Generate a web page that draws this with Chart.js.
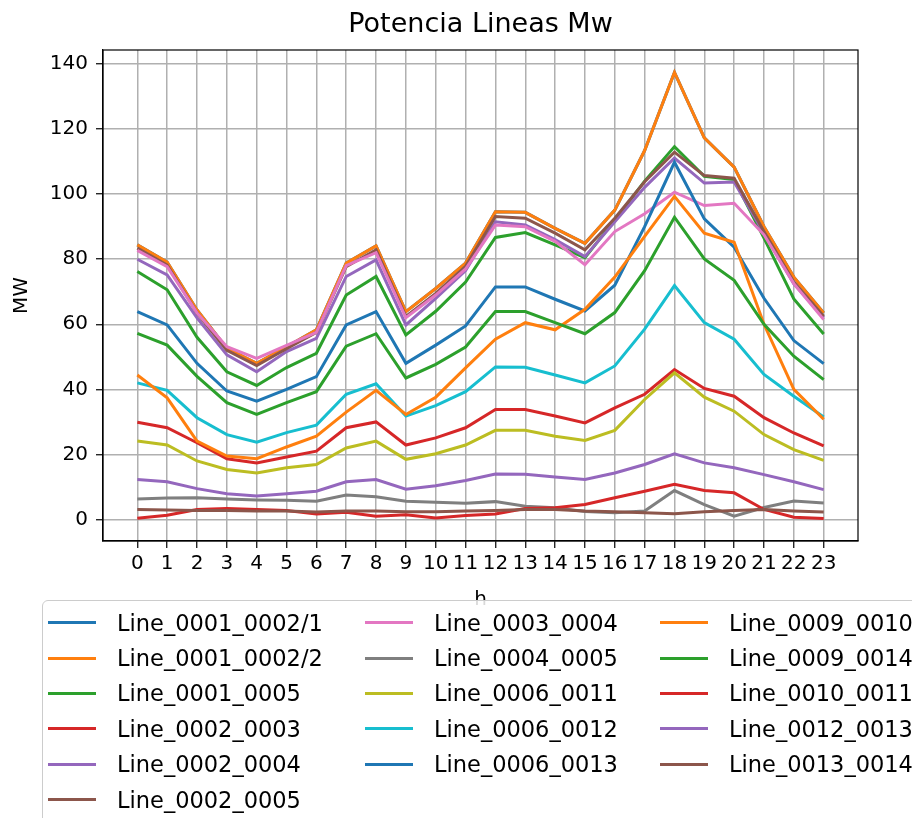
<!DOCTYPE html>
<html>
<head>
<meta charset="utf-8">
<script src="https://cdn.jsdelivr.net/npm/chart.js@4.4.0/dist/chart.umd.min.js"></script>
<style>
html,body{margin:0;padding:0;background:#fff;}
#wrap{position:relative;width:912px;height:818px;overflow:hidden;}
#c{position:absolute;left:0;top:0;}
#legend{position:absolute;left:42px;top:600px;width:900px;height:240px;border:1px solid #cccccc;border-radius:6px;background:rgba(255,255,255,0.85);box-sizing:border-box;font-family:"DejaVu Sans";font-size:22.5px;color:#000;display:grid;grid-template-rows:repeat(6,35.4px);grid-template-columns:317px 295px auto;padding-top:4px;padding-left:5px;}
.item{display:flex;align-items:center;white-space:nowrap;}
.sw{width:48px;height:3px;margin-right:21px;flex:none;}
</style>
</head>
<body>
<div id="wrap">
<canvas id="c" width="912" height="818"></canvas>
<div id="legend"></div>
</div>
<script>
const hours = [0,1,2,3,4,5,6,7,8,9,10,11,12,13,14,15,16,17,18,19,20,21,22,23];
const yTicks = [0,20,40,60,80,100,120,140];

const l0001_0002_1 = [84.4,79.1,64.4,52.6,48.0,53.1,58.3,78.8,84.1,63.9,71.0,78.8,94.6,94.4,89.5,84.9,95.1,113.4,137.4,117.3,108.3,90.0,74.5,63.5];
const l0001_0002_2 = [84.4,79.1,64.4,52.6,48.0,53.1,58.3,78.8,84.1,63.9,71.0,78.8,94.6,94.4,89.5,84.9,95.1,113.4,137.4,117.3,108.3,90.0,74.5,63.5];
const l0001_0005 = [76.2,70.6,56.0,45.4,41.2,46.7,51.1,69.0,74.7,56.7,64.0,73.0,86.7,88.2,84.4,80.5,92.0,104.0,114.6,105.5,104.5,86.5,67.8,57.0];
const l0002_0003 = [29.9,28.2,23.6,18.7,17.4,19.2,21.0,28.2,30.0,22.9,25.1,28.2,33.8,33.8,31.8,29.7,34.3,38.5,46.1,40.3,37.9,31.3,26.6,22.6];
const l0002_0004 = [80.0,75.2,62.0,50.6,45.4,51.6,55.7,74.7,79.8,59.8,68.0,76.5,91.5,90.5,86.0,80.8,91.5,102.1,111.1,103.4,103.7,88.0,72.4,62.0];
const l0002_0005 = [83.4,78.2,63.5,52.0,47.3,52.5,57.5,77.7,82.9,62.4,69.5,77.8,93.1,92.6,88.0,82.9,92.6,103.8,112.9,105.7,104.9,88.5,73.0,62.5];
const l0003_0004 = [82.7,77.7,63.5,53.1,49.5,53.5,57.5,78.0,82.0,62.0,69.0,77.0,90.5,90.0,85.5,78.3,88.5,94.0,100.6,96.5,97.2,87.5,72.5,61.5];
const l0004_0005 = [6.3,6.6,6.7,6.3,6.0,5.9,5.6,7.5,7.0,5.6,5.3,5.0,5.5,4.1,3.6,2.5,2.1,2.6,8.9,4.6,1.0,3.7,5.7,5.1];
const l0006_0011 = [24.1,22.9,18.0,15.4,14.3,15.9,16.9,22.0,24.1,18.5,20.2,22.9,27.4,27.4,25.6,24.3,27.4,36.9,45.1,37.6,33.3,26.1,21.5,18.2];
const l0006_0012 = [42.0,39.7,31.3,26.1,23.8,26.7,29.0,38.5,41.7,31.8,35.0,39.3,46.9,46.8,44.4,42.0,47.2,58.5,71.9,60.5,55.4,44.6,37.9,31.5];
const l0006_0013 = [63.9,59.8,48.0,39.5,36.4,40.0,43.9,59.8,63.9,48.0,53.6,59.5,71.5,71.5,67.7,64.1,72.0,90.0,109.8,92.4,83.7,68.0,55.0,47.9];
const l0009_0010 = [44.4,37.4,24.1,19.5,18.7,22.3,25.6,33.0,39.7,32.3,37.6,46.6,55.4,60.5,58.3,64.6,74.5,87.0,99.3,88.0,85.2,60.0,40.0,30.8];
const l0009_0014 = [57.2,53.6,44.0,35.9,32.3,35.9,39.3,53.3,57.1,43.5,47.7,53.0,63.9,63.9,60.5,57.1,63.6,76.5,92.9,80.1,73.5,60.0,50.2,43.0];
const l0010_0011 = [0.4,1.3,3.1,3.4,3.1,2.8,1.7,2.2,1.0,1.5,0.5,1.2,1.7,3.4,3.6,4.6,6.7,8.7,10.8,8.9,8.2,3.1,0.7,0.3];
const l0012_0013 = [12.3,11.6,9.5,7.9,7.2,7.9,8.7,11.6,12.3,9.3,10.4,12.0,14.0,13.9,13.1,12.3,14.3,16.9,20.2,17.4,15.9,13.8,11.6,9.2];
const l0013_0014 = [3.1,2.9,2.8,2.8,2.6,2.6,2.3,2.6,2.6,2.4,2.4,2.6,2.8,3.1,3.1,2.6,2.4,2.1,1.8,2.4,2.8,3.1,2.6,2.3];

const seriesNames = ["Line_0001_0002/1","Line_0001_0002/2","Line_0001_0005","Line_0002_0003","Line_0002_0004","Line_0002_0005","Line_0003_0004","Line_0004_0005","Line_0006_0011","Line_0006_0012","Line_0006_0013","Line_0009_0010","Line_0009_0014","Line_0010_0011","Line_0012_0013","Line_0013_0014"];
const seriesValues = [l0001_0002_1,l0001_0002_2,l0001_0005,l0002_0003,l0002_0004,l0002_0005,l0003_0004,l0004_0005,l0006_0011,l0006_0012,l0006_0013,l0009_0010,l0009_0014,l0010_0011,l0012_0013,l0013_0014];
const palette = ["#1f77b4","#ff7f0e","#2ca02c","#d62728","#9467bd","#8c564b","#e377c2","#7f7f7f","#bcbd22","#17becf"];

Chart.defaults.font.family = "DejaVu Sans";
Chart.defaults.color = "#000";

const datasets = seriesNames.map((name, i) => ({
  label: name,
  data: seriesValues[i].map((v, k) => ({x: hours[k], y: v})),
  borderColor: palette[i % palette.length],
  backgroundColor: palette[i % palette.length],
  borderWidth: 3,
  pointRadius: 0,
  tension: 0,
  fill: false,
  order: -i
}));

const framePlugin = {
  id: 'frame',
  afterDatasetsDraw(chart) {
    const {ctx, chartArea: a} = chart;
    ctx.save();
    ctx.strokeStyle = '#000';
    ctx.lineWidth = 1.2;
    ctx.strokeRect(a.left, a.top, a.right - a.left, a.bottom - a.top);
    ctx.restore();
  }
};

const chart = new Chart(document.getElementById('c'), {
  type: 'line',
  data: {datasets},
  plugins: [framePlugin],
  options: {
    responsive: false,
    animation: false,
    devicePixelRatio: 1,
    layout: {padding: {left: 0, right: 54, top: 0, bottom: 206}},
    plugins: {
      legend: {display: false},
      tooltip: {enabled: false},
      title: {
        display: true,
        fullSize: false,
        text: 'Potencia Lineas Mw',
        font: {size: 27, weight: 'normal'},
        color: '#000',
        padding: {top: 9, bottom: 8.6}
      }
    },
    scales: {
      x: {
        type: 'linear',
        min: -1.15,
        max: 24.15,
        afterBuildTicks: s => { s.ticks = hours.map(v => ({value: v})); },
        afterFit: s => { s.height = 71; },
        ticks: {autoSkip: false, maxRotation: 0, minRotation: 0, padding: 4, font: {size: 20}, color: '#000', callback: v => String(v)},
        grid: {color: '#b0b0b0', lineWidth: 1.5, tickColor: '#000', tickLength: 7, tickWidth: 1.2},
        border: {display: true, color: '#000', width: 1.2},
        title: {display: true, text: 'h', font: {size: 20}, color: '#000', padding: {top: 0, bottom: 0}}
      },
      y: {
        type: 'linear',
        min: -6.6,
        max: 144.3,
        afterBuildTicks: s => { s.ticks = yTicks.map(v => ({value: v})); },
        afterFit: s => { s.width = 103; },
        ticks: {padding: 8, font: {size: 20}, color: '#000', callback: v => String(v)},
        grid: {color: '#b0b0b0', lineWidth: 1.5, tickColor: '#000', tickLength: 7, tickWidth: 1.2},
        border: {display: true, color: '#000', width: 1.2},
        title: {display: true, text: 'MW', font: {size: 20}, color: '#000', padding: {top: 10, bottom: 0}}
      }
    }
  }
});

// matplotlib-style column-major legend: 16 entries in 3 columns (6, 5, 5)
const legendEl = document.getElementById('legend');
const nCols = 3;
const perCol = [];
const n = chart.data.datasets.length;
for (let c = 0; c < nCols; c++) perCol.push(Math.floor(n / nCols) + (c < n % nCols ? 1 : 0));
let idx = 0;
perCol.forEach((cnt, c) => {
  for (let r = 0; r < cnt; r++, idx++) {
    const ds = chart.data.datasets[idx];
    const item = document.createElement('div');
    item.className = 'item';
    item.style.gridColumn = String(c + 1);
    item.style.gridRow = String(r + 1);
    const sw = document.createElement('span');
    sw.className = 'sw';
    sw.style.background = ds.borderColor;
    const tx = document.createElement('span');
    tx.textContent = ds.label;
    item.appendChild(sw);
    item.appendChild(tx);
    legendEl.appendChild(item);
  }
});
</script>
</body>
</html>
